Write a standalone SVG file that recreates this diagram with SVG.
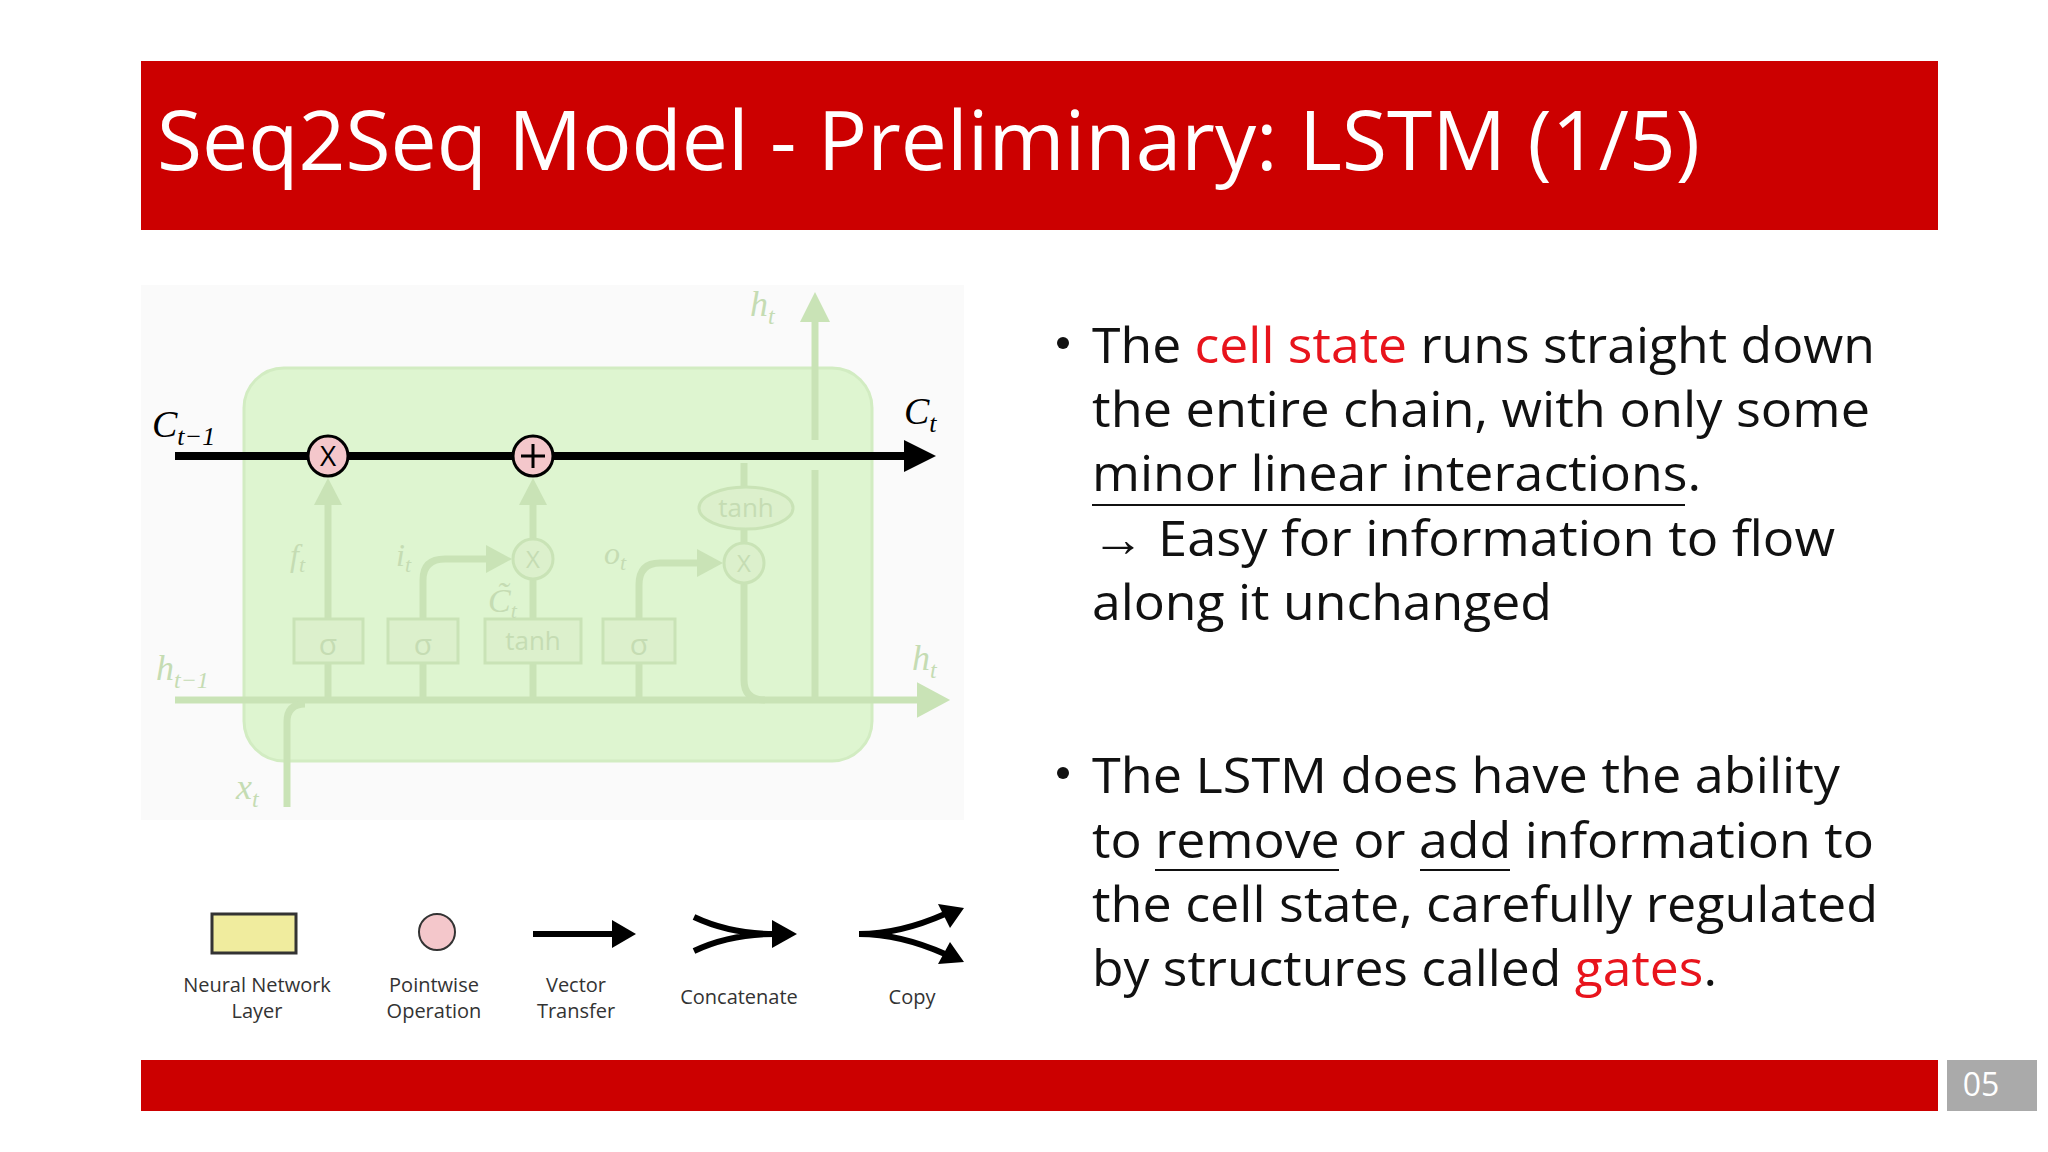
<svg xmlns="http://www.w3.org/2000/svg" width="2048" height="1152" viewBox="0 0 2048 1152">
<style>
.t{font-family:"Open Sans","Liberation Sans",sans-serif;}
.body{font-family:"Open Sans","Liberation Sans",sans-serif;font-size:50px;fill:#111;}
.red{fill:#e8141c;}
.leg{font-family:"Open Sans","Liberation Sans",sans-serif;font-size:20px;fill:#333;text-anchor:middle;}
.math{font-family:"Liberation Serif",serif;font-style:italic;}
.lg{stroke:#c9e3b6;fill:none;stroke-width:7;}
.gb{fill:#dcf0cc;stroke:#c9e3b6;stroke-width:3;}
.gt{fill:#c5dcb3;font-family:"Open Sans","Liberation Sans",sans-serif;}
</style>
<defs>
<marker id="blk" markerWidth="4" markerHeight="4" refX="2" refY="2" orient="auto" markerUnits="strokeWidth"><path d="M0,0 L4,2 L0,4 z" fill="#000"/></marker>
</defs>
<rect width="2048" height="1152" fill="#fff"/>
<g id="title">
<rect x="141" y="61" width="1797" height="169" fill="#cc0000"/>
<text class="t" x="157" y="170" font-size="82" fill="#fff" textLength="1543" lengthAdjust="spacingAndGlyphs">Seq2Seq Model - Preliminary: LSTM (1/5)</text>
</g>
<g id="diagram">
<rect x="141" y="285" width="823" height="535" fill="#fafafa"/>
<rect x="244" y="368" width="628" height="393" rx="40" fill="#def5d0" stroke="#d2ecc2" stroke-width="3"/>
<g id="connectors">
<path class="lg" d="M175,700 H920"/>
<path d="M920,700 L948,700 M918,684 L948,700 L918,716 z" fill="#c9e3b6" stroke="#c9e3b6" stroke-width="2"/>
<path class="lg" d="M287,807 V722 Q287,704 305,704"/>
<path class="lg" d="M328,700 V500"/><path d="M314,505 L328,478 L342,505 z" fill="#c9e3b6"/>
<path class="lg" d="M423,700 V580 Q423,559 445,559 H490"/><path d="M486,545 L512,559 L486,573 z" fill="#c9e3b6"/>
<path class="lg" d="M533,700 V580 M533,538 V505"/><path d="M519,505 L533,478 L547,505 z" fill="#c9e3b6"/>
<path class="lg" d="M639,700 V585 Q639,563 660,563 H700"/><path d="M697,549 L723,563 L697,577 z" fill="#c9e3b6"/>
<path class="lg" d="M744,463 V487 M744,529 V542 M744,584 V680 Q744,700 765,700"/>
<path class="lg" d="M815,700 V470 M815,440 V315"/><path d="M800,322 L815,292 L830,322 z" fill="#c9e3b6"/>
<path d="M175,456 H920" stroke="#000" stroke-width="8" marker-end="url(#blk)"/>
</g>
<g id="gates">
<rect class="gb" x="294" y="619" width="69" height="44"/><text class="gt" x="328" y="655" font-size="30" text-anchor="middle">σ</text>
<rect class="gb" x="388" y="619" width="70" height="44"/><text class="gt" x="423" y="655" font-size="30" text-anchor="middle">σ</text>
<rect class="gb" x="485" y="619" width="96" height="44"/><text class="gt" x="533" y="650" font-size="26" text-anchor="middle">tanh</text>
<rect class="gb" x="603" y="619" width="72" height="44"/><text class="gt" x="639" y="655" font-size="30" text-anchor="middle">σ</text>
<ellipse class="gb" cx="746" cy="508" rx="47" ry="21"/><text class="gt" x="746" y="517" font-size="26" text-anchor="middle">tanh</text>
<circle class="gb" cx="533" cy="559" r="20"/><text class="gt" x="533" y="568" font-size="24" text-anchor="middle">X</text>
<circle class="gb" cx="744" cy="563" r="20"/><text class="gt" x="744" y="572" font-size="24" text-anchor="middle">X</text>
</g>
<g id="ops">
<circle cx="328" cy="456" r="20" fill="#f4c7cb" stroke="#000" stroke-width="3"/><text x="328" y="466" font-size="28" text-anchor="middle" class="t">X</text>
<circle cx="533" cy="456" r="20" fill="#f4c7cb" stroke="#000" stroke-width="3"/><path d="M533,444 V468 M521,456 H545" stroke="#000" stroke-width="3"/>
</g>
<g id="labels" class="math">
<text x="152" y="437" font-size="38" fill="#000">C<tspan font-size="26" dy="8">t−1</tspan></text>
<text x="904" y="424" font-size="38" fill="#000">C<tspan font-size="26" dy="8">t</tspan></text>
<text x="156" y="680" font-size="36" fill="#c5dcb3">h<tspan font-size="24" dy="8">t−1</tspan></text>
<text x="912" y="670" font-size="36" fill="#c5dcb3">h<tspan font-size="24" dy="8">t</tspan></text>
<text x="750" y="316" font-size="36" fill="#c5dcb3">h<tspan font-size="24" dy="8">t</tspan></text>
<text x="236" y="799" font-size="36" fill="#c5dcb3">x<tspan font-size="24" dy="8">t</tspan></text>
<text x="290" y="566" font-size="32" fill="#c5dcb3">f<tspan font-size="22" dy="6">t</tspan></text>
<text x="396" y="566" font-size="32" fill="#c5dcb3">i<tspan font-size="22" dy="6">t</tspan></text>
<text x="604" y="564" font-size="32" fill="#c5dcb3">o<tspan font-size="22" dy="6">t</tspan></text>
<text x="488" y="612" font-size="34" fill="#c5dcb3">C̃<tspan font-size="22" dy="6">t</tspan></text>
</g>
</g>
<g id="legend">
<rect x="212" y="914" width="84" height="39" fill="#f0ec9e" stroke="#333" stroke-width="3"/>
<circle cx="437" cy="932" r="18" fill="#f4c7cb" stroke="#333" stroke-width="2"/>
<path d="M533,934 H615" stroke="#000" stroke-width="6"/><path d="M612,920 L636,934 L612,948 z" fill="#000"/>
<path d="M694,917 Q730,934 775,934 M694,951 Q730,934 775,934" stroke="#000" stroke-width="6" fill="none"/><path d="M772,920 L797,934 L772,948 z" fill="#000"/>
<path d="M859,934 Q900,934 945,914 M859,934 Q900,934 945,954" stroke="#000" stroke-width="6" fill="none"/><path d="M938,904 L964,908 L950,928 z M938,964 L964,962 L950,942 z" fill="#000"/>
<text class="leg" x="257" y="992">Neural Network</text><text class="leg" x="257" y="1018">Layer</text>
<text class="leg" x="434" y="992">Pointwise</text><text class="leg" x="434" y="1018">Operation</text>
<text class="leg" x="576" y="992">Vector</text><text class="leg" x="576" y="1018">Transfer</text>
<text class="leg" x="739" y="1004">Concatenate</text>
<text class="leg" x="912" y="1004">Copy</text>
</g>
<g id="bullets">
<circle cx="1063" cy="343" r="6" fill="#111"/>
<text class="body" x="1092" y="363" textLength="783" lengthAdjust="spacingAndGlyphs">The <tspan class="red">cell state</tspan> runs straight down</text>
<text class="body" x="1092" y="427" textLength="778" lengthAdjust="spacingAndGlyphs">the entire chain, with only some</text>
<text class="body" x="1092" y="491" textLength="609" lengthAdjust="spacingAndGlyphs">minor linear interactions.</text>
<path d="M1092,505 H1685" stroke="#111" stroke-width="2"/>
<text class="body" x="1092" y="556" textLength="743" lengthAdjust="spacingAndGlyphs">→ Easy for information to flow</text>
<text class="body" x="1092" y="620" textLength="460" lengthAdjust="spacingAndGlyphs">along it unchanged</text>
<circle cx="1063" cy="773" r="6" fill="#111"/>
<text class="body" x="1092" y="793" textLength="748" lengthAdjust="spacingAndGlyphs">The LSTM does have the ability</text>
<text class="body" x="1092" y="858" textLength="782" lengthAdjust="spacingAndGlyphs">to remove or add information to</text>
<path d="M1155,870 H1339 M1420,870 H1510" stroke="#111" stroke-width="2"/>
<text class="body" x="1092" y="922" textLength="786" lengthAdjust="spacingAndGlyphs">the cell state, carefully regulated</text>
<text class="body" x="1092" y="986" textLength="625" lengthAdjust="spacingAndGlyphs">by structures called <tspan class="red">gates</tspan>.</text>
</g>
<g id="footer">
<rect x="141" y="1060" width="1797" height="51" fill="#cc0000"/>
<rect x="1947" y="1060" width="90" height="51" fill="#aaaaaa"/>
<text class="t" x="1981" y="1096" font-size="32" fill="#fff" text-anchor="middle">05</text>
</g>
</svg>
